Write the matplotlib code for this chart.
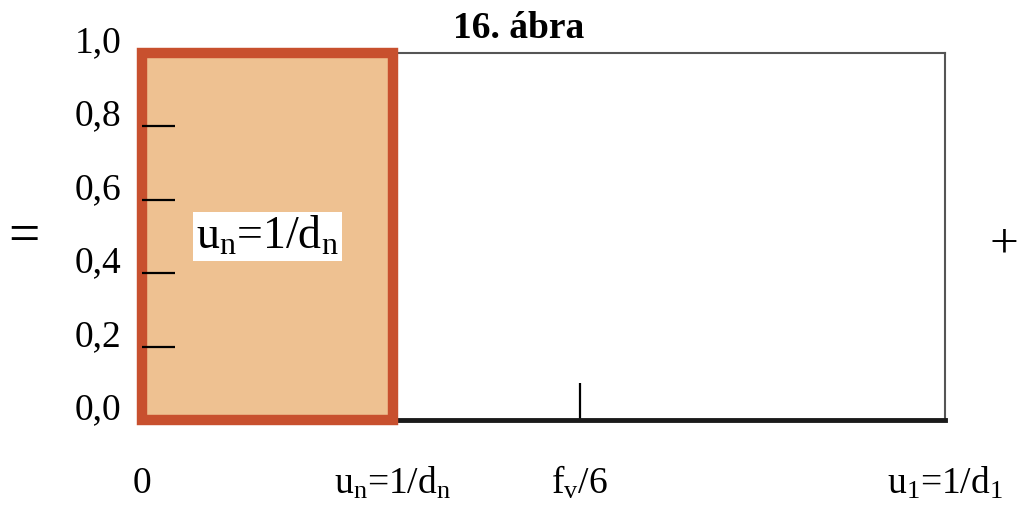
import matplotlib
matplotlib.use("Agg")
import matplotlib.pyplot as plt
from matplotlib.patches import Rectangle
from matplotlib.transforms import ScaledTranslation

plt.rcParams['font.family'] = ['Liberation Serif', 'DejaVu Serif']
plt.rcParams['mathtext.fontset'] = 'custom'
plt.rcParams['mathtext.rm'] = 'Liberation Serif'
plt.rcParams['mathtext.it'] = 'Liberation Serif:italic'

# data
title = "16. ábra"
x_positions = [0.0, 1.0, 1.745, 3.2]          # 0, u_n, f_v/6, u_1
x_labels = ["0", r"u$_\mathrm{n}$=1/d$_\mathrm{n}$", r"f$_\mathrm{v}$/6",
            r"u$_\mathrm{1}$=1/d$_\mathrm{1}$"]
y_ticks = [0.0, 0.2, 0.4, 0.6, 0.8, 1.0]
y_labels = ["0,0", "0,2", "0,4", "0,6", "0,8", "1,0"]
band_start, band_end, band_height = 0.0, 1.0, 1.0
band_label = r"u$_\mathrm{n}$=1/d$_\mathrm{n}$"

W, H = 1018, 506
fig = plt.figure(figsize=(W / 100, H / 100), dpi=100)
ax = fig.add_axes([142 / W, (H - 421) / H, (945 - 142) / W, (421 - 54) / H])
ax.set_xlim(x_positions[0], x_positions[-1])
ax.set_ylim(0, 1.0)

# spines
ax.spines['left'].set_visible(False)
ax.spines['top'].set_color('#555555')
ax.spines['top'].set_linewidth(1.5)
ax.spines['right'].set_color('#555555')
ax.spines['right'].set_linewidth(1.5)
ax.spines['bottom'].set_color('#1a1a1a')
ax.spines['bottom'].set_linewidth(3.5)

# orange band
rect = Rectangle((band_start, 0), band_end - band_start, band_height,
                 facecolor='#EEC191', edgecolor='#C8502E', linewidth=7.5,
                 zorder=3, clip_on=False)
ax.add_patch(rect)

ax.text((band_start + band_end) / 2, 0.5, band_label, fontsize=33,
        ha='center', va='center', zorder=5,
        bbox=dict(facecolor='white', edgecolor='none', pad=2))

# y ticks
ax.set_yticks(y_ticks)
ax.set_yticklabels(y_labels, fontsize=27)
ax.tick_params(axis='y', direction='in', length=24, width=1.6, pad=15,
               color='black')
yt = ax.yaxis.get_major_ticks()
yt[0].tick1line.set_visible(False)
yt[-1].tick1line.set_visible(False)
for lab in ax.get_yticklabels():
    lab.set_transform(lab.get_transform() + ScaledTranslation(0, 0.15, fig.dpi_scale_trans))
ax.yaxis.set_zorder(6)

# x ticks
ax.set_xticks(x_positions)
ax.set_xticklabels(x_labels, fontsize=27)
ax.tick_params(axis='x', direction='in', length=27, width=1.6, pad=52,
               color='black')
for lab in ax.get_xticklabels():
    lab.set_verticalalignment('baseline')
xt = ax.xaxis.get_major_ticks()
for i, t in enumerate(xt):
    if i != 2:
        t.tick1line.set_visible(False)

fig.text(519 / W, 1 - 28 / H, title, fontsize=27, fontweight='bold',
         ha='center', va='center')
fig.text(24 / W, 1 - 238 / H, "=", fontsize=40, ha='center', va='center')
fig.text(1004 / W, 1 - 245 / H, "+", fontsize=37, ha='center', va='center')

fig.savefig("out.png", dpi=100)
